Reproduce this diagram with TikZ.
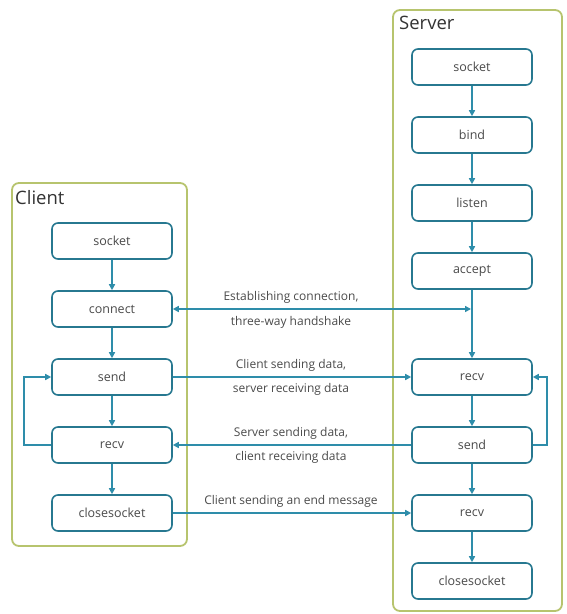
\documentclass[tikz,border=0pt]{standalone}
\usepackage{fontspec}
\setmainfont{Open Sans}
\usetikzlibrary{arrows.meta}
\definecolor{flow}{HTML}{2E8DAA}
\definecolor{frame}{HTML}{B7C46E}
\definecolor{txt}{HTML}{4A4A4A}
\tikzset{
  lane/.style={draw=frame, line width=1.8pt, rounded corners=7pt, fill=white},
  lanetitle/.style={anchor=north west, text=black!80, font=\fontsize{18.5}{22}\selectfont, inner sep=0pt},
  call/.style={draw=flow!85!black, line width=1.6pt, rounded corners=6pt, fill=white,
    minimum width=120pt, minimum height=36pt, text=txt, font=\fontsize{12.5}{15}\selectfont},
  flowline/.style={draw=flow, line width=1.6pt, -{Triangle[length=6pt,width=6pt]}},
  msg/.style={text=txt, font=\fontsize{12}{14}\selectfont, inner sep=1pt}
}
\begin{document}
\begin{tikzpicture}[x=1pt,y=-1pt]
\useasboundingbox (0,0) rectangle (567,614);
% lanes
\draw[lane] (12,183) rectangle (187,546);
\draw[lane] (393,10) rectangle (562,611);
\node[lanetitle] (ct) at (15,190) {Client};
\node[lanetitle] (st) at (399,16) {Server};
% client calls
\node[call] (csock) at (112,241) {socket};
\node[call] (cconn) at (112,309) {connect};
\node[call] (csend) at (112,377) {send};
\node[call] (crecv) at (112,445) {recv};
\node[call] (cclose) at (112,513) {closesocket};
% server calls
\node[call] (ssock) at (472,67) {socket};
\node[call] (sbind) at (472,135) {bind};
\node[call] (slist) at (472,203) {listen};
\node[call] (sacc) at (472,271) {accept};
\node[call] (srecv) at (472,377) {recv};
\node[call] (ssend) at (472,445) {send};
\node[call] (srecv2) at (472,513) {recv};
\node[call] (sclose) at (472,581) {closesocket};
% vertical flow
\draw[flowline] (csock) -- (cconn);
\draw[flowline] (cconn) -- (csend);
\draw[flowline] (csend) -- (crecv);
\draw[flowline] (crecv) -- (cclose);
\draw[flowline] (ssock) -- (sbind);
\draw[flowline] (sbind) -- (slist);
\draw[flowline] (slist) -- (sacc);
\draw[flowline] (sacc) -- (srecv);
\draw[flowline] (srecv) -- (ssend);
\draw[flowline] (ssend) -- (srecv2);
\draw[flowline] (srecv2) -- (sclose);
% loops
\draw[flowline] (crecv.west) -- ++(-27,0) |- (csend.west);
\draw[flowline] (ssend.east) -- ++(14,0) |- (srecv.east);
% messages
\coordinate (hs) at (471,309);
\draw[flowline, {Triangle[length=6pt,width=6pt]}-{Triangle[length=6pt,width=6pt]}] (cconn.east) -- (hs);
\draw[flowline] (csend.east) -- (srecv.west);
\draw[flowline] (ssend.west) -- (crecv.east);
\draw[flowline] (cclose.east) -- (srecv2.west);
% message labels
\node[msg] (m1a) at (291,297) {Establishing connection,};
\node[msg] (m1b) at (291,322) {three-way handshake};
\node[msg] (m2a) at (291,365) {Client sending data,};
\node[msg] (m2b) at (291,389) {server receiving data};
\node[msg] (m3a) at (291,433) {Server sending data,};
\node[msg] (m3b) at (291,457) {client receiving data};
\node[msg] (m4a) at (291,501) {Client sending an end message};
\end{tikzpicture}
\end{document}
